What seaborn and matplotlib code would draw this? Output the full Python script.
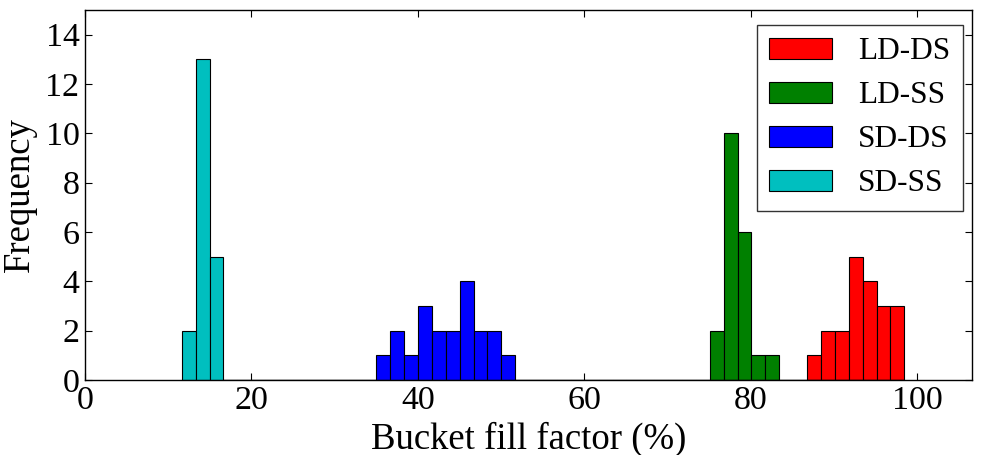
import numpy as np
import pandas as pd
import matplotlib
matplotlib.use("Agg")
import matplotlib.pyplot as plt
import seaborn as sns

# ---- data ----
groups = ["LD-DS", "LD-SS", "SD-DS", "SD-SS"]
colors = ["#ff0000", "#008000", "#0000ff", "#00bfbf"]
bin_start = 11.63      # left edge of the first bin (%)
bin_width = 1.67       # common bin width (%)
n_bins = 52
# first bin index and counts for each group
ld_ds_first, ld_ds_counts = 45, [1, 2, 2, 5, 4, 3, 3]
ld_ss_first, ld_ss_counts = 38, [2, 10, 6, 1, 1]
sd_ds_first, sd_ds_counts = 14, [1, 2, 1, 3, 2, 2, 4, 2, 2, 1]
sd_ss_first, sd_ss_counts = 0, [2, 13, 5]
x_ticks = [0, 20, 40, 60, 80, 100]
y_ticks = [0, 2, 4, 6, 8, 10, 12, 14]

firsts = [ld_ds_first, ld_ss_first, sd_ds_first, sd_ss_first]
counts = [ld_ds_counts, ld_ss_counts, sd_ds_counts, sd_ss_counts]
edges = [bin_start + bin_width * k for k in range(n_bins + 1)]

rows = []
for g, f, c in zip(groups, firsts, counts):
    for i, n in enumerate(c):
        k = f + i
        rows.append({"group": g, "x": (edges[k] + edges[k + 1]) / 2, "w": n})
df = pd.DataFrame(rows)

sns.set_style("ticks")
plt.rcParams["font.family"] = ["Liberation Serif", "DejaVu Serif"]
plt.rcParams["text.color"] = "black"
plt.rcParams["axes.labelcolor"] = "black"
plt.rcParams["xtick.color"] = "black"
plt.rcParams["ytick.color"] = "black"

fig = plt.figure(figsize=(9.82, 4.55), dpi=100)
ax = fig.add_axes([0.0866, 0.1648, 0.9032, 0.8132])

for g, col in zip(groups, colors):
    sub = df[df["group"] == g]
    sns.histplot(data=sub, x="x", weights="w", bins=edges, color=col,
                 alpha=1.0, edgecolor="black", linewidth=0.8,
                 label=g, ax=ax)

ax.set_xlim(0, 106.6)
ax.set_ylim(0, 15)
ax.set_xticks(x_ticks)
ax.set_yticks(y_ticks)
ax.set_xlabel("Bucket fill factor (%)", fontsize=26.5, labelpad=4)
ax.set_ylabel("Frequency", fontsize=26.5, labelpad=6)
ax.tick_params(direction="in", top=True, right=True, length=5, width=0.8,
               labelsize=24.5, pad=4)
for s in ax.spines.values():
    s.set_linewidth(1.0)
    s.set_color("black")

leg = ax.legend(loc="upper right", bbox_to_anchor=(0.9898, 0.9595),
                fontsize=22.5, frameon=True, fancybox=False,
                handlelength=2.0, handleheight=0.7, labelspacing=0.48,
                handletextpad=0.85, borderpad=0.4, borderaxespad=0.0)
leg.get_frame().set_edgecolor("black")
leg.get_frame().set_linewidth(1.0)

fig.savefig("out.png", dpi=100)
